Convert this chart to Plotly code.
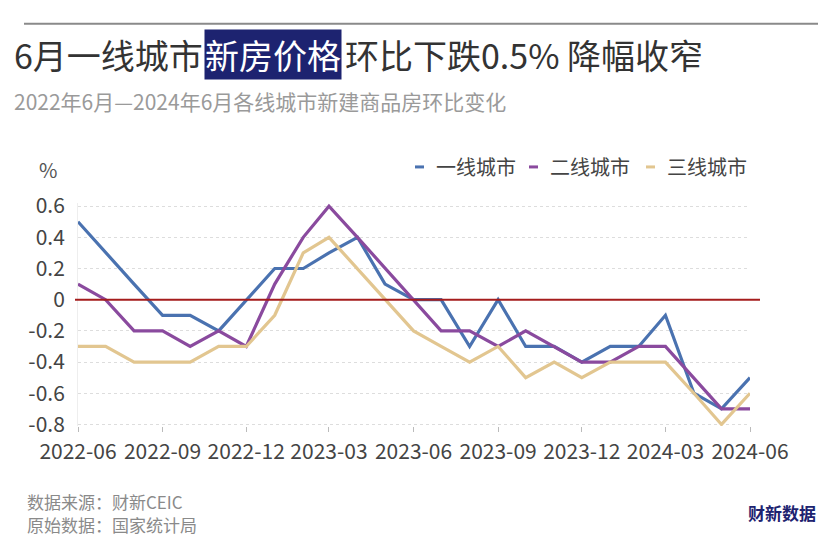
import plotly.graph_objects as go
import pandas as pd

months = pd.date_range("2022-06-01", "2024-06-01", freq="MS")
tier1 = [0.5, 0.3, 0.1, -0.1, -0.1, -0.2, 0.0, 0.2, 0.2, 0.3, 0.4, 0.1, 0.0,
         0.0, -0.3, 0.0, -0.3, -0.3, -0.4, -0.3, -0.3, -0.1, -0.6, -0.7, -0.5]
tier2 = [0.1, 0.0, -0.2, -0.2, -0.3, -0.2, -0.3, 0.1, 0.4, 0.6, 0.4, 0.2, 0.0,
         -0.2, -0.2, -0.3, -0.2, -0.3, -0.4, -0.4, -0.3, -0.3, -0.5, -0.7, -0.7]
tier3 = [-0.3, -0.3, -0.4, -0.4, -0.4, -0.3, -0.3, -0.1, 0.3, 0.4, 0.2, 0.0, -0.2,
         -0.3, -0.4, -0.3, -0.5, -0.4, -0.5, -0.4, -0.4, -0.4, -0.6, -0.8, -0.6]
names = ["一线城市", "二线城市", "三线城市"]
colors = ["#4A72B0", "#8A4A9E", "#E2C690"]
ytickvals = [-0.8, -0.6, -0.4, -0.2, 0, 0.2, 0.4, 0.6]
yticktext = ["-0.8", "-0.6", "-0.4", "-0.2", "0", "0.2", "0.4", "0.6"]

FONT = "Noto Sans CJK SC"
W, H = 840, 560
L, R, T, B = 78, 90, 203, 134.4
PW, PH = W - L - R, H - T - B


def px(x):
    return (x - L) / PW


def py(y):
    return (H - B - y) / PH


fig = go.Figure()
for name, vals, c in zip(names, [tier1, tier2, tier3], colors):
    fig.add_trace(go.Scatter(x=months, y=vals, mode="lines", name=name,
                             line=dict(color=c, width=3.2), showlegend=False))

fig.add_shape(type="line", xref="paper", yref="y", x0=px(75), x1=px(760), y0=0, y1=0,
              line=dict(color="#A51C1C", width=2))
# top rule
fig.add_shape(type="line", xref="paper", yref="paper", x0=px(24), x1=px(818), y0=py(24), y1=py(24),
              line=dict(color="#8a8a8a", width=2))

ann = []
ann.append(dict(text="6月一线城市", x=px(12), y=py(55), xanchor="left", yanchor="middle",
                font=dict(size=34, color="#333333", family=FONT)))
ann.append(dict(text="新房价格", x=px(204), y=py(55), xanchor="left", yanchor="middle",
                font=dict(size=34, color="#ffffff", family=FONT), bgcolor="#1D2370", borderpad=0))
ann.append(dict(text="环比下跌0.5% 降幅收窄", x=px(343), y=py(55), xanchor="left", yanchor="middle",
                font=dict(size=34, color="#333333", family=FONT)))
ann.append(dict(text="2022年6月—2024年6月各线城市新建商品房环比变化", x=px(12), y=py(101),
                xanchor="left", yanchor="middle", font=dict(size=21, color="#9a9a9a", family=FONT)))
ann.append(dict(text="%", x=px(48), y=py(170), xanchor="center", yanchor="middle",
                font=dict(size=20, color="#555555", family=FONT)))
ann.append(dict(text="数据来源：财新CEIC", x=px(25), y=py(501), xanchor="left", yanchor="middle",
                font=dict(size=17, color="#8a8a8a", family=FONT)))
ann.append(dict(text="原始数据：国家统计局", x=px(25), y=py(524), xanchor="left", yanchor="middle",
                font=dict(size=17, color="#8a8a8a", family=FONT)))
ann.append(dict(text="<b>财新数据</b>", x=px(818), y=py(512), xanchor="right", yanchor="middle",
                font=dict(size=17, color="#1D2370", family=FONT)))

# legend
leg_x = [415, 529, 646]
for lx, name, c in zip(leg_x, names, colors):
    fig.add_shape(type="line", xref="paper", yref="paper", x0=px(lx), x1=px(lx + 9),
                  y0=py(167), y1=py(167), line=dict(color=c, width=3))
    ann.append(dict(text=name, x=px(lx + 19), y=py(167), xanchor="left", yanchor="middle",
                    font=dict(size=20, color="#444444", family=FONT)))

for a in ann:
    a.update(xref="paper", yref="paper", showarrow=False)

fig.update_layout(
    width=W, height=H,
    margin=dict(l=L, r=R, t=T, b=B),
    paper_bgcolor="white", plot_bgcolor="white",
    font=dict(family=FONT, color="#444444"),
    annotations=ann,
    showlegend=False,
    xaxis=dict(range=[months[0], months[-1]], tick0="2022-06-01", dtick="M3",
               tickformat="%Y-%m", showgrid=False, zeroline=False, showline=False,
               ticks="outside", ticklen=5, tickcolor="#bbbbbb", tickwidth=1,
               ticklabelstandoff=2,
               tickfont=dict(size=21, color="#444444", family=FONT)),
    yaxis=dict(range=[-0.81, 0.62], tickvals=ytickvals, ticktext=yticktext,
               showgrid=True, gridcolor="#dddddd", griddash="dot", gridwidth=1,
               zeroline=False, showline=True, linecolor="#eeeeee", linewidth=1,
               ticks="", ticklabelstandoff=8,
               tickfont=dict(size=21, color="#444444", family=FONT)),
)

fig.write_html("out.html", config={"displayModeBar": False},
               post_script="document.body.style.margin='0';")
